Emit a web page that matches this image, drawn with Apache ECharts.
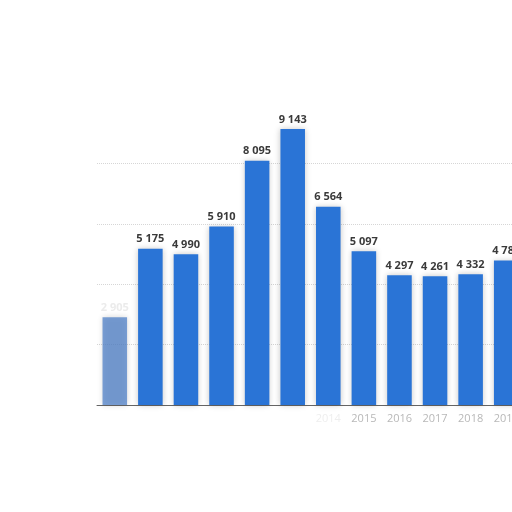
<!DOCTYPE html>
<html><head><meta charset="utf-8">
<script src="https://cdn.jsdelivr.net/npm/echarts@6/dist/echarts.min.js"></script>
<style>html,body{margin:0;padding:0;background:#fff;overflow:hidden;width:512px;height:512px}#c{width:525px;height:512px}</style>
</head><body><div id="c"></div>
<script>
var years = ['2008','2009','2010','2011','2012','2013','2014','2015','2016','2017','2018','2019'];
var values = [2905, 5175, 4990, 5910, 8095, 9143, 6564, 5097, 4297, 4261, 4332, 4783];
var gridValues = [2000, 4000, 6000, 8000];
var visibleYearFrom = '2015';

var chart = echarts.init(document.getElementById('c'));
chart.setOption({
  animation: false,
  grid: { left: 97, top: 129, right: 1, height: 276 },
  xAxis: {
    type: 'category', data: years,
    axisLine: { lineStyle: { color: '#666', width: 1 } },
    axisTick: { show: false },
    axisLabel: {
      fontFamily: 'Open Sans', fontSize: 11, margin: 8,
      color: function (v) { return v >= visibleYearFrom ? '#b8b8b8' : (v === '2014' ? '#eeeeee' : 'rgba(0,0,0,0)'); }
    }
  },
  yAxis: {
    type: 'value', min: 0, max: 9143,
    axisLabel: { show: false }, axisLine: { show: false }, axisTick: { show: false },
    splitLine: { show: false }
  },
  series: [{
    type: 'bar', data: values.map(function (v, i) {
      return i === 0 ? { value: v, itemStyle: { color: '#4f80c8', opacity: 0.75 }, label: { color: '#e4e4e4' } } : v;
    }),
    barWidth: '69%',
    itemStyle: { color: '#2a74d6', shadowColor: 'rgba(0,0,0,0.22)', shadowBlur: 6 },
    label: {
      show: true, position: 'top', distance: 4,
      fontFamily: 'Open Sans', fontSize: 11, fontWeight: 'bold', color: '#3a3a3a',
      formatter: function (p) { return String(p.value).replace(/\B(?=(\d{3})+(?!\d))/g, ' '); }
    },
    markLine: {
      silent: true, symbol: 'none', z: 1,
      label: { show: false },
      lineStyle: { type: 'dotted', color: '#d6d6d6', width: 1 },
      data: gridValues.map(function (g) { return { yAxis: g }; })
    }
  }]
});
</script></body></html>
